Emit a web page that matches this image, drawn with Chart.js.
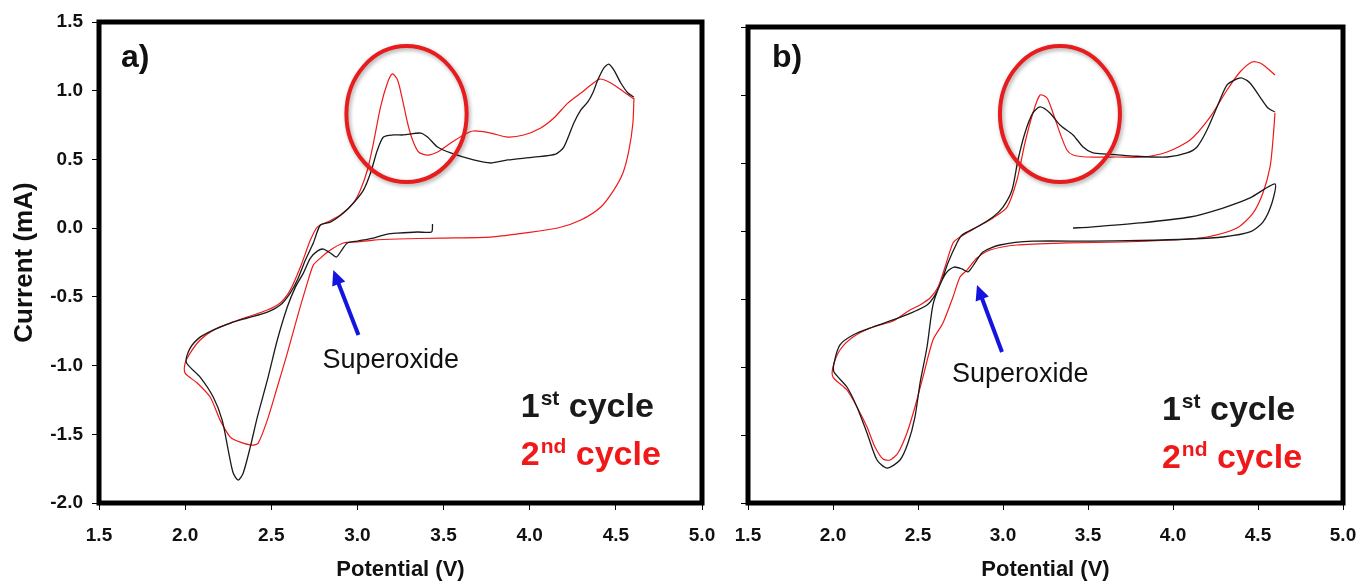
<!DOCTYPE html>
<html>
<head>
<meta charset="utf-8">
<script src="https://cdn.jsdelivr.net/npm/chart.js@4.4.1/dist/chart.umd.min.js"></script>
<style>
  html, body { margin: 0; padding: 0; background: #fff; }
  #wrap { position: relative; width: 1361px; height: 585px; }
  #chartA { position: absolute; left: 0; top: 0; }
  #chartB { position: absolute; left: 720px; top: 0; }
</style>
</head>
<body>
<div id="wrap">
  <canvas id="chartA" width="720" height="585"></canvas>
  <canvas id="chartB" width="641" height="585"></canvas>
</div>
<script>
// Axis ticks (both panels share them)
const potentialTicks = [1.5, 2.0, 2.5, 3.0, 3.5, 4.0, 4.5, 5.0];
const currentTicks = [-2.0, -1.5, -1.0, -0.5, 0.0, 0.5, 1.0, 1.5];

// Panel a) - 1st cycle, potential (V) and current (mA)
const aCycle1V = [3.436, 3.430, 3.349, 3.233, 3.174, 3.093, 3.000, 2.942, 2.913, 2.878, 2.843, 2.802, 2.767, 2.727, 2.686, 2.640, 2.593, 2.535, 2.477, 2.419, 2.378, 2.337, 2.308, 2.279, 2.250, 2.215, 2.163, 2.087, 2.006, 2.029, 2.087, 2.163, 2.262, 2.360, 2.477, 2.552, 2.610, 2.651, 2.698, 2.744, 2.785, 2.843, 2.919, 2.977, 3.035, 3.076, 3.116, 3.151, 3.209, 3.267, 3.366, 3.407, 3.465, 3.541, 3.674, 3.773, 3.872, 4.023, 4.151, 4.198, 4.256, 4.297, 4.337, 4.366, 4.395, 4.430, 4.459, 4.488, 4.529, 4.570, 4.605];
const aCycle1I = [0.030, -0.028, -0.028, -0.036, -0.043, -0.072, -0.094, -0.108, -0.152, -0.210, -0.181, -0.152, -0.167, -0.218, -0.327, -0.429, -0.574, -0.814, -1.106, -1.375, -1.593, -1.782, -1.833, -1.782, -1.615, -1.397, -1.229, -1.084, -0.975, -0.873, -0.793, -0.742, -0.691, -0.654, -0.611, -0.560, -0.472, -0.378, -0.232, -0.108, 0.023, 0.044, 0.110, 0.183, 0.277, 0.401, 0.568, 0.663, 0.678, 0.678, 0.692, 0.663, 0.590, 0.547, 0.496, 0.474, 0.496, 0.517, 0.539, 0.590, 0.765, 0.860, 0.918, 0.983, 1.078, 1.165, 1.194, 1.151, 1.056, 0.983, 0.954];

// Panel a) - 2nd cycle
const aCycle2V = [4.605, 4.599, 4.576, 4.541, 4.488, 4.413, 4.297, 4.163, 3.965, 3.773, 3.483, 3.233, 3.093, 3.000, 2.919, 2.843, 2.785, 2.744, 2.709, 2.651, 2.593, 2.535, 2.477, 2.424, 2.390, 2.320, 2.262, 2.203, 2.145, 2.070, 2.000, 2.000, 2.029, 2.087, 2.163, 2.262, 2.360, 2.477, 2.552, 2.610, 2.669, 2.727, 2.767, 2.826, 2.901, 2.977, 3.017, 3.058, 3.093, 3.134, 3.174, 3.203, 3.233, 3.262, 3.291, 3.320, 3.355, 3.407, 3.465, 3.541, 3.616, 3.674, 3.773, 3.872, 3.965, 4.064, 4.140, 4.221, 4.297, 4.355, 4.407, 4.471, 4.547, 4.605];
const aCycle2I = [0.947, 0.765, 0.568, 0.401, 0.277, 0.154, 0.059, 0.001, -0.036, -0.065, -0.072, -0.079, -0.087, -0.101, -0.108, -0.159, -0.218, -0.269, -0.400, -0.647, -0.909, -1.156, -1.397, -1.564, -1.579, -1.557, -1.520, -1.397, -1.229, -1.127, -1.055, -0.982, -0.909, -0.814, -0.742, -0.691, -0.647, -0.596, -0.545, -0.451, -0.283, -0.087, 0.008, 0.044, 0.095, 0.183, 0.277, 0.423, 0.619, 0.881, 1.056, 1.122, 1.078, 0.932, 0.765, 0.641, 0.554, 0.532, 0.554, 0.619, 0.678, 0.707, 0.692, 0.663, 0.678, 0.729, 0.801, 0.910, 0.983, 1.041, 1.085, 1.056, 0.991, 0.940];

// Panel b) - 1st cycle (starts anodic from OCV)
const bCycle1V = [3.412, 3.512, 3.806, 4.100, 4.294, 4.453, 4.600, 4.582, 4.529, 4.453, 4.294, 4.100, 3.806, 3.512, 3.176, 2.982, 2.882, 2.835, 2.794, 2.759, 2.712, 2.671, 2.629, 2.588, 2.553, 2.512, 2.482, 2.441, 2.394, 2.318, 2.259, 2.200, 2.141, 2.082, 2.006, 2.006, 2.041, 2.118, 2.235, 2.353, 2.471, 2.553, 2.600, 2.641, 2.676, 2.729, 2.759, 2.847, 2.941, 3.000, 3.053, 3.088, 3.129, 3.176, 3.218, 3.276, 3.335, 3.412, 3.471, 3.529, 3.612, 3.765, 3.965, 4.082, 4.141, 4.200, 4.259, 4.318, 4.376, 4.406, 4.453, 4.512, 4.559, 4.600];
const bCycle1I = [0.022, 0.029, 0.059, 0.103, 0.169, 0.243, 0.346, 0.206, 0.066, -0.007, -0.044, -0.059, -0.070, -0.075, -0.075, -0.103, -0.154, -0.235, -0.301, -0.279, -0.265, -0.301, -0.397, -0.544, -0.853, -1.118, -1.368, -1.559, -1.684, -1.743, -1.684, -1.485, -1.294, -1.147, -1.037, -0.971, -0.838, -0.765, -0.706, -0.654, -0.596, -0.544, -0.471, -0.360, -0.235, -0.088, -0.029, 0.029, 0.103, 0.176, 0.301, 0.522, 0.721, 0.868, 0.912, 0.868, 0.779, 0.706, 0.618, 0.574, 0.566, 0.551, 0.544, 0.574, 0.618, 0.743, 0.912, 1.074, 1.118, 1.125, 1.088, 0.985, 0.904, 0.875];

// Panel b) - 2nd cycle
const bCycle2V = [4.600, 4.588, 4.571, 4.529, 4.471, 4.376, 4.200, 4.000, 3.706, 3.376, 3.082, 2.924, 2.847, 2.788, 2.747, 2.706, 2.647, 2.588, 2.529, 2.482, 2.435, 2.382, 2.335, 2.294, 2.247, 2.200, 2.141, 2.082, 2.000, 2.000, 2.041, 2.118, 2.235, 2.353, 2.453, 2.512, 2.571, 2.618, 2.659, 2.706, 2.747, 2.847, 2.941, 3.024, 3.082, 3.129, 3.176, 3.218, 3.259, 3.294, 3.335, 3.376, 3.412, 3.494, 3.671, 3.824, 3.965, 4.100, 4.218, 4.318, 4.394, 4.465, 4.512, 4.553, 4.600];
const bCycle2I = [0.868, 0.669, 0.471, 0.279, 0.132, 0.022, -0.044, -0.066, -0.081, -0.088, -0.103, -0.140, -0.199, -0.287, -0.338, -0.485, -0.676, -0.801, -1.074, -1.294, -1.485, -1.632, -1.684, -1.676, -1.588, -1.441, -1.294, -1.169, -1.074, -1.000, -0.875, -0.779, -0.706, -0.662, -0.581, -0.544, -0.493, -0.412, -0.265, -0.088, -0.044, 0.029, 0.096, 0.176, 0.375, 0.647, 0.868, 1.000, 0.978, 0.868, 0.721, 0.596, 0.559, 0.544, 0.544, 0.544, 0.581, 0.669, 0.838, 1.037, 1.169, 1.243, 1.235, 1.199, 1.147];

const FONT = "'Liberation Sans', Arial, Helvetica, sans-serif";
const BLACK = '#1a1a1a';
const RED = '#f01818';

const toPoints = (v, i) => v.map((x, k) => ({ x: x, y: i[k] }));

// Thick box around the plot area
const framePlugin = {
    id: 'frame',
    afterDraw(chart) {
        const { ctx, chartArea: a } = chart;
        ctx.save();
        ctx.strokeStyle = '#000';
        ctx.lineWidth = 5;
        ctx.strokeRect(a.left, a.top, a.right - a.left, a.bottom - a.top);
        ctx.restore();
    }
};

// "1st cycle" style label with a raised suffix
const drawCycleLabel = (ctx, x, y, num, sup, color) => {
    ctx.fillStyle = color;
    ctx.font = `bold 34px ${FONT}`;
    ctx.fillText(num, x, y);
    let w = ctx.measureText(num).width + 1;
    ctx.font = `bold 21px ${FONT}`;
    ctx.fillText(sup, x + w, y - 12);
    w += ctx.measureText(sup).width;
    ctx.font = `bold 34px ${FONT}`;
    ctx.fillText(' cycle', x + w, y);
};

// Panel letter, highlight ring, superoxide arrow and cycle key
const notesPlugin = {
    id: 'cvNotes',
    afterDatasetsDraw(chart, args, opts) {
        const { ctx, scales: { x, y } } = chart;
        const px = v => x.getPixelForValue(v);
        const py = v => y.getPixelForValue(v);
        ctx.save();
        ctx.textAlign = 'left';
        ctx.textBaseline = 'alphabetic';

        // ring around the oxidation peak
        const r = opts.ring;
        const cx = px(r.x), cy = py(r.y);
        const rx = px(r.x + r.rx) - cx, ry = cy - py(r.y + r.ry);
        ctx.save();
        ctx.shadowColor = 'rgba(0,0,0,0.35)';
        ctx.shadowBlur = 4;
        ctx.shadowOffsetX = 1.5;
        ctx.shadowOffsetY = 2;
        ctx.strokeStyle = '#e81c1c';
        ctx.lineWidth = 4;
        ctx.beginPath();
        ctx.ellipse(cx, cy, rx, ry, 0, 0, Math.PI * 2);
        ctx.stroke();
        ctx.restore();

        // arrow pointing at the superoxide shoulder
        const a = opts.arrow;
        const x0 = px(a.from[0]), y0 = py(a.from[1]);
        const x1 = px(a.to[0]), y1 = py(a.to[1]);
        const ang = Math.atan2(y1 - y0, x1 - x0);
        const head = 15, half = 7;
        ctx.strokeStyle = '#1414e0';
        ctx.fillStyle = '#1414e0';
        ctx.lineWidth = 4;
        ctx.beginPath();
        ctx.moveTo(x0, y0);
        ctx.lineTo(x1 - Math.cos(ang) * head * 0.8, y1 - Math.sin(ang) * head * 0.8);
        ctx.stroke();
        ctx.beginPath();
        ctx.moveTo(x1, y1);
        ctx.lineTo(x1 - Math.cos(ang) * head - Math.sin(ang) * half, y1 - Math.sin(ang) * head + Math.cos(ang) * half);
        ctx.lineTo(x1 - Math.cos(ang) * head + Math.sin(ang) * half, y1 - Math.sin(ang) * head - Math.cos(ang) * half);
        ctx.closePath();
        ctx.fill();

        ctx.fillStyle = '#111';
        ctx.font = `27px ${FONT}`;
        ctx.fillText('Superoxide', px(a.text[0]), py(a.text[1]));

        // panel letter
        ctx.font = `bold 32px ${FONT}`;
        ctx.fillText(opts.letter.text, px(opts.letter.x), py(opts.letter.y));

        // cycle key
        const k = opts.key;
        drawCycleLabel(ctx, px(k.x), py(k.y1), '1', 'st', BLACK);
        drawCycleLabel(ctx, px(k.x), py(k.y2), '2', 'nd', RED);
        ctx.restore();
    }
};

const makeChart = (canvasId, cycle1, cycle2, cfg) => {
    const ctx = document.getElementById(canvasId).getContext('2d');
    const line = (data, color, width) => ({
        data: data,
        showLine: true,
        borderColor: color,
        borderWidth: width,
        pointRadius: 0,
        tension: 0.25,
        fill: false
    });

    return new Chart(ctx, {
        type: 'scatter',
        data: {
            datasets: [
                line(cycle1, BLACK, 1.3),
                line(cycle2, RED, 1.2)
            ]
        },
        options: {
            responsive: false,
            animation: false,
            devicePixelRatio: 1,
            layout: { padding: { left: 0, top: cfg.top, right: 18, bottom: 0 } },
            plugins: {
                legend: { display: false },
                tooltip: { enabled: false },
                cvNotes: cfg.notes
            },
            scales: {
                x: {
                    type: 'linear',
                    min: 1.5,
                    max: 5.0,
                    afterBuildTicks: s => { s.ticks = potentialTicks.map(v => ({ value: v })); },
                    // fixed band below the plot, no extra room for end labels
                    afterFit: s => { s.height = 82; s.paddingLeft = 0; s.paddingRight = 0; },
                    border: { display: false },
                    grid: { drawOnChartArea: false, drawTicks: true, tickLength: 7, color: '#000', lineWidth: 1 },
                    ticks: {
                        color: '#111',
                        padding: 14,
                        maxRotation: 0,
                        font: { family: FONT, size: 19, weight: 'bold' },
                        callback: v => v.toFixed(1)
                    },
                    title: {
                        display: true,
                        text: 'Potential (V)',
                        color: '#111',
                        font: { family: FONT, size: 22, weight: 'bold' },
                        padding: { top: 0, bottom: 2 }
                    }
                },
                y: {
                    type: 'linear',
                    min: -2.0,
                    max: 1.5,
                    afterBuildTicks: s => { s.ticks = currentTicks.map(v => ({ value: v })); },
                    afterFit: s => { s.width = cfg.yWidth; s.paddingTop = 0; s.paddingBottom = 0; },
                    border: { display: false },
                    grid: { drawOnChartArea: false, drawTicks: true, tickLength: 7, color: '#000', lineWidth: 1 },
                    ticks: {
                        color: '#111',
                        padding: 9,
                        font: { family: FONT, size: 19, weight: 'bold' },
                        callback: v => cfg.yLabels ? v.toFixed(1) : ''
                    },
                    title: {
                        display: cfg.yLabels,
                        text: 'Current (mA)',
                        color: '#111',
                        font: { family: FONT, size: 26, weight: 'bold' },
                        padding: { top: 9, bottom: 0 }
                    }
                }
            }
        },
        plugins: [notesPlugin, framePlugin]
    });
};

makeChart('chartA', toPoints(aCycle1V, aCycle1I), toPoints(aCycle2V, aCycle2I), {
    top: 22,
    yWidth: 99,
    yLabels: true,
    notes: {
        letter: { text: 'a)', x: 1.628, y: 1.172 },
        ring: { x: 3.285, y: 0.83, rx: 0.349, ry: 0.495 },
        arrow: { from: [3.006, -0.778], to: [2.860, -0.305], text: [2.797, -1.018] },
        key: { x: 3.948, y1: -1.375, y2: -1.724 }
    }
});

makeChart('chartB', toPoints(bCycle1V, bCycle1I), toPoints(bCycle2V, bCycle2I), {
    top: 27,
    yWidth: 28,
    yLabels: false,
    notes: {
        letter: { text: 'b)', x: 1.641, y: 1.206 },
        ring: { x: 3.335, y: 0.86, rx: 0.353, ry: 0.5 },
        arrow: { from: [2.994, -0.890], to: [2.847, -0.397], text: [2.700, -1.110] },
        key: { x: 3.935, y1: -1.390, y2: -1.743 }
    }
});
</script>
</body>
</html>
